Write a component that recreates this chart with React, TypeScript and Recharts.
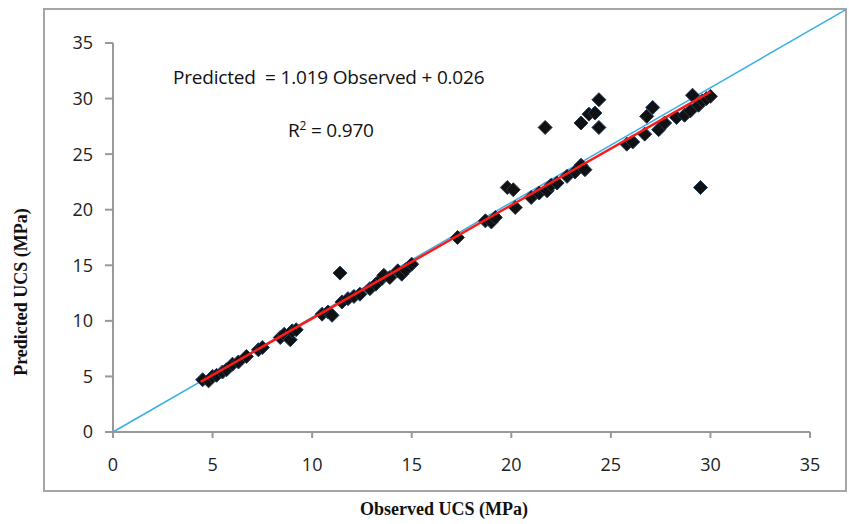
import React from 'react';
import {
  ScatterChart,
  Scatter,
  XAxis,
  YAxis,
  ReferenceLine,
} from 'recharts';

// observed vs predicted UCS (MPa)
const observed = [
  4.5, 4.8, 5.0, 5.2, 5.5, 5.7, 6.0, 6.3, 6.7, 7.3, 7.5,
  8.4, 8.6, 8.9, 9.0, 9.2, 10.5, 10.8, 11.0, 11.4,
  11.5, 11.8, 12.1, 12.4, 12.9, 13.2, 13.5, 13.6, 13.9,
  14.3, 14.5, 14.7, 15.0, 17.3, 18.7, 19.0, 19.2,
  19.8, 20.1, 20.2, 21.0, 21.4, 21.7, 21.8, 22.0, 22.3,
  22.8, 23.2, 23.5, 23.7, 23.5, 23.9, 24.2, 24.4, 24.4,
  25.8, 26.1, 26.7, 26.8, 27.1, 27.4, 27.7,
  28.3, 28.7, 29.0, 29.1, 29.4, 29.5, 29.6, 29.8, 30.0,
];
const predicted = [
  4.7, 4.6, 5.0, 5.1, 5.4, 5.6, 6.1, 6.3, 6.8, 7.4, 7.6,
  8.5, 8.8, 8.3, 9.1, 9.2, 10.6, 10.8, 10.5, 14.3,
  11.7, 12.0, 12.2, 12.4, 12.9, 13.3, 13.8, 14.1, 13.9,
  14.5, 14.2, 14.6, 15.1, 17.5, 19.0, 18.9, 19.3,
  22.0, 21.8, 20.2, 21.1, 21.5, 27.4, 21.7, 22.2, 22.4,
  23.0, 23.4, 24.0, 23.6, 27.8, 28.6, 28.7, 29.9, 27.4,
  25.9, 26.1, 26.8, 28.4, 29.2, 27.2, 27.8,
  28.3, 28.5, 28.9, 30.3, 29.4, 22.0, 29.8, 30.0, 30.2,
];

// fitted line: Predicted = 1.019 Observed + 0.026
const fitSlope = 1.019;
const fitIntercept = 0.026;
const fitRange = [4.4, 30];

const ticks = [0, 5, 10, 15, 20, 25, 30, 35];

const points = observed.map((x, i) => ({ x, y: predicted[i] }));
const fitLine = fitRange.map((x) => ({ x, y: fitSlope * x + fitIntercept }));

const tickStyle = { fontFamily: '"Open Sans", sans-serif', fontSize: 18, fill: '#222' };
const titleStyle: React.CSSProperties = {
  position: 'absolute',
  fontFamily: '"Liberation Serif", "Times New Roman", serif',
  fontWeight: 'bold',
  fontSize: 18,
  color: '#111',
  whiteSpace: 'nowrap',
};
const noteStyle: React.CSSProperties = {
  position: 'absolute',
  fontFamily: '"Open Sans", sans-serif',
  fontSize: 19,
  color: '#111',
  whiteSpace: 'nowrap',
  letterSpacing: -0.2,
};

// square diamond marker like Excel's
const Diamond = (props: any) => {
  const { cx, cy } = props;
  if (cx == null || cy == null) return null;
  const r = 7;
  return (
    <polygon
      points={`${cx},${cy - r} ${cx + r},${cy} ${cx},${cy + r} ${cx - r},${cy}`}
      fill="#111"
      stroke="#1f3a58"
      strokeWidth={1}
    />
  );
};

export default function App() {
  return (
    <div style={{ position: 'absolute', left: 0, top: 0, width: 849, height: 524, background: '#fff' }}>
      {/* chart frame */}
      <div
        style={{
          position: 'absolute',
          left: 43,
          top: 8,
          width: 800,
          height: 480,
          border: '2px solid #a6a6a6',
        }}
      />

      <ScatterChart
        width={849}
        height={524}
        margin={{ top: 43, right: 39, left: 43, bottom: 52 }}
        style={{ position: 'absolute', left: 0, top: 0 }}
      >
        <XAxis
          type="number"
          dataKey="x"
          domain={[0, 35]}
          ticks={ticks}
          height={40}
          tick={tickStyle}
          tickSize={6}
          tickMargin={20}
          stroke="#999"
          strokeWidth={2}
          allowDataOverflow
        />
        <YAxis
          type="number"
          dataKey="y"
          domain={[0, 35]}
          ticks={ticks}
          width={70}
          tick={tickStyle}
          tickSize={8}
          tickMargin={12}
          stroke="#999"
          strokeWidth={2}
          allowDataOverflow
        />
        <Scatter data={points} shape={<Diamond />} isAnimationActive={false} />
        <ReferenceLine
          segment={[
            { x: 0, y: 0 },
            { x: 36.8, y: 38.0 },
          ]}
          stroke="#3ab0e2"
          strokeWidth={1.5}
          ifOverflow="visible"
        />
        <Scatter
          data={fitLine}
          line={{ stroke: '#ff1a1a', strokeWidth: 2.5 }}
          shape={() => null}
          isAnimationActive={false}
        />
      </ScatterChart>

      <div style={{ ...noteStyle, left: 173, top: 64 }}>Predicted&nbsp; = 1.019 Observed + 0.026</div>
      <div style={{ ...noteStyle, left: 288, top: 117 }}>
        R<sup style={{ fontSize: 12 }}>2</sup> = 0.970
      </div>

      <div style={{ ...titleStyle, left: 360, top: 499 }}>Observed UCS (MPa)</div>
      <div
        style={{
          ...titleStyle,
          left: 21,
          top: 292,
          transform: 'translate(-50%, -50%) rotate(-90deg)',
        }}
      >
        Predicted UCS (MPa)
      </div>
    </div>
  );
}
